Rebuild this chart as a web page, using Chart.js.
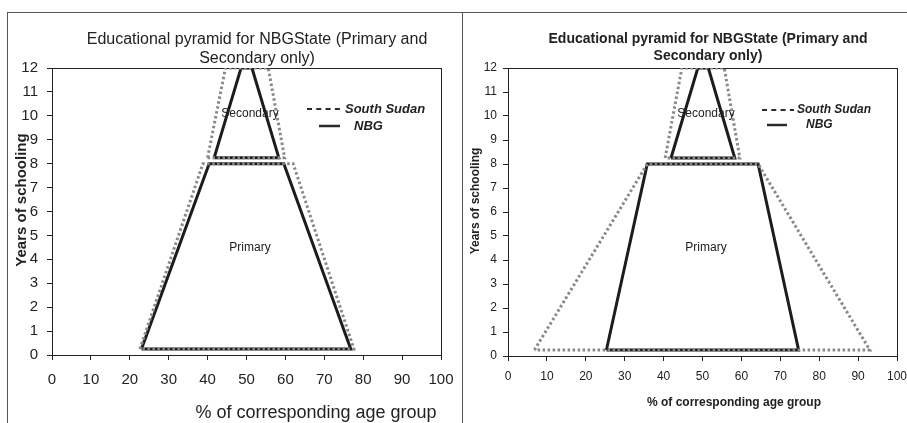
<!DOCTYPE html>
<html>
<head>
<meta charset="utf-8">
<script src="https://cdn.jsdelivr.net/npm/chart.js@4.4.1/dist/chart.umd.min.js"></script>
<style>
    html, body { margin: 0; padding: 0; background: #fff; }
    #page { position: relative; width: 907px; height: 423px; overflow: hidden; }
    .line { position: absolute; background: #555; }
    .panel { position: absolute; top: 0; }
</style>
</head>
<body>
<div id="page">
    <div class="line" style="left:7px; top:12px; width:900px; height:1px;"></div>
    <div class="line" style="left:7px; top:12px; width:1px; height:411px;"></div>
    <div class="line" style="left:462px; top:12px; width:1px; height:411px;"></div>
    <canvas class="panel" id="leftChart" width="461" height="423" style="left:0px;"></canvas>
    <canvas class="panel" id="rightChart" width="445" height="423" style="left:462px;"></canvas>
</div>
<script>
// Series (left panel)
const leftSouthSudanX = [22.6, 38.8, 62, 77.6, 22.6, null, 40, 44.6, 55.6, 59.8, 40];
const leftSouthSudanY = [0.25, 8, 8, 0.25, 0.25, null, 8.25, 12, 12, 8.25, 8.25];
const leftNbgX = [23, 40.4, 59.6, 76.8, 23, null, 41.7, 48.6, 51.4, 58.3, 41.7];
const leftNbgY = [0.25, 8, 8, 0.25, 0.25, null, 8.25, 12, 12, 8.25, 8.25];

// Series (right panel)
const rightSouthSudanX = [6.8, 35.8, 64.3, 93, 6.8, null, 40.4, 44.7, 55.6, 59.6, 40.4];
const rightSouthSudanY = [0.25, 8, 8, 0.25, 0.25, null, 8.25, 12, 12, 8.25, 8.25];
const rightNbgX = [25.3, 35.8, 64.3, 74.7, 25.3, null, 41.9, 48.8, 51.5, 58.3, 41.9];
const rightNbgY = [0.25, 8, 8, 0.25, 0.25, null, 8.25, 12, 12, 8.25, 8.25];

// Text
const seriesNames = ['South Sudan', 'NBG'];
const titleLines = ['Educational pyramid for NBGState (Primary and', 'Secondary only)'];
const xAxisTitle = '% of corresponding age group';
const yAxisTitle = 'Years of schooling';
const regionLabels = ['Secondary', 'Primary'];
const regionX = [50.9, 50.9];
const regionY = [10.1, 4.5];

const FONT = "'Liberation Sans', Arial, sans-serif";

function toPoints(xs, ys) {
    return xs.map((x, i) => ({ x: x, y: ys[i] }));
}

// Draws titles, region labels, frame and the legend
const panelText = {
    id: 'panelText',
    beforeDatasetsDraw(chart) {
        const ctx = chart.ctx;
        const a = chart.chartArea;
        ctx.save();
        ctx.strokeStyle = '#222';
        ctx.lineWidth = 1;
        ctx.strokeRect(Math.round(a.left) + 0.5, Math.round(a.top) + 0.5,
            Math.round(a.right - a.left), Math.round(a.bottom - a.top));
        ctx.restore();
    },
    afterDraw(chart, args, opts) {
        const ctx = chart.ctx;
        const xs = chart.scales.x;
        const ys = chart.scales.y;
        ctx.save();
        ctx.fillStyle = '#222';
        ctx.textAlign = 'center';
        ctx.textBaseline = 'middle';

        ctx.font = opts.titleFont;
        titleLines.forEach((line, i) => ctx.fillText(line, opts.titleX, opts.titleY[i]));

        ctx.font = opts.xTitleFont;
        ctx.fillText(xAxisTitle, opts.xTitlePos[0], opts.xTitlePos[1]);

        ctx.save();
        ctx.translate(opts.yTitlePos[0], opts.yTitlePos[1]);
        ctx.rotate(-Math.PI / 2);
        ctx.font = opts.yTitleFont;
        ctx.fillText(yAxisTitle, 0, 0);
        ctx.restore();

        ctx.font = '12px ' + FONT;
        regionLabels.forEach((t, i) => {
            ctx.fillText(t, xs.getPixelForValue(regionX[i]), ys.getPixelForValue(regionY[i]));
        });

        // legend
        const lg = opts.legend;
        ctx.font = lg.font;
        ctx.textAlign = 'left';
        ctx.strokeStyle = '#2a2a2a';

        ctx.lineWidth = 2;
        ctx.setLineDash([5, 4.3]);
        ctx.beginPath();
        ctx.moveTo(lg.ss[0], lg.ss[2]);
        ctx.lineTo(lg.ss[1], lg.ss[2]);
        ctx.stroke();
        ctx.fillText(seriesNames[0], lg.ss[3], lg.ss[2]);

        ctx.lineWidth = 2.5;
        ctx.setLineDash([]);
        ctx.beginPath();
        ctx.moveTo(lg.nbg[0], lg.nbg[2]);
        ctx.lineTo(lg.nbg[1], lg.nbg[2]);
        ctx.stroke();
        ctx.fillText(seriesNames[1], lg.nbg[3], lg.nbg[2]);

        ctx.restore();
    }
};

function buildChart(canvasId, ssX, ssY, nbgX, nbgY, cfg) {
    const ctx = document.getElementById(canvasId);
    return new Chart(ctx, {
        type: 'scatter',
        data: {
            datasets: [
                {
                    label: seriesNames[0],
                    data: toPoints(ssX, ssY),
                    showLine: true,
                    spanGaps: false,
                    borderColor: '#888888',
                    borderWidth: 3,
                    borderDash: [2.5, 2.5],
                    pointRadius: 0,
                    tension: 0
                },
                {
                    label: seriesNames[1],
                    data: toPoints(nbgX, nbgY),
                    showLine: true,
                    spanGaps: false,
                    borderColor: '#1c1c1c',
                    borderWidth: 3,
                    pointRadius: 0,
                    tension: 0
                }
            ]
        },
        options: {
            responsive: false,
            animation: false,
            layout: {
                padding: { left: 0, right: cfg.padRight, top: 68, bottom: 0 }
            },
            plugins: {
                legend: { display: false },
                tooltip: { enabled: false },
                title: { display: false },
                panelText: cfg.text
            },
            scales: {
                x: {
                    type: 'linear',
                    min: 0,
                    max: 100,
                    afterFit: (scale) => {
                        scale.height = cfg.xHeight;
                        scale.paddingLeft = 0;
                        scale.paddingRight = 0;
                    },
                    border: { color: '#222', width: 1 },
                    grid: { drawOnChartArea: false, tickLength: 5, color: '#222' },
                    ticks: {
                        stepSize: 10,
                        maxRotation: 0,
                        padding: cfg.xTickPad,
                        color: '#222',
                        font: { family: FONT, size: cfg.tickSize }
                    }
                },
                y: {
                    type: 'linear',
                    min: 0,
                    max: 12,
                    afterFit: (scale) => {
                        scale.width = cfg.yWidth;
                        scale.paddingTop = 0;
                        scale.paddingBottom = 0;
                    },
                    border: { color: '#222', width: 1 },
                    grid: { drawOnChartArea: false, tickLength: 5, color: '#222' },
                    ticks: {
                        stepSize: 1,
                        padding: cfg.yTickPad,
                        color: '#222',
                        font: { family: FONT, size: cfg.tickSize }
                    }
                }
            }
        },
        plugins: [panelText]
    });
}

buildChart('leftChart', leftSouthSudanX, leftSouthSudanY, leftNbgX, leftNbgY, {
    padRight: 20,
    xHeight: 68,
    yWidth: 52,
    tickSize: 15,
    xTickPad: 11,
    yTickPad: 9,
    text: {
        titleFont: '16px ' + FONT,
        titleX: 257,
        titleY: [40, 59],
        xTitleFont: '18px ' + FONT,
        xTitlePos: [316, 413],
        yTitleFont: 'bold 15px ' + FONT,
        yTitlePos: [22, 200],
        legend: {
            font: 'italic bold 13px ' + FONT,
            ss: [307, 340, 109, 345],
            nbg: [319, 340, 126, 354]
        }
    }
});

buildChart('rightChart', rightSouthSudanX, rightSouthSudanY, rightNbgX, rightNbgY, {
    padRight: 10,
    xHeight: 67,
    yWidth: 46,
    tickSize: 12,
    xTickPad: 8,
    yTickPad: 6,
    text: {
        titleFont: 'bold 14px ' + FONT,
        titleX: 246,
        titleY: [39, 56],
        xTitleFont: 'bold 12px ' + FONT,
        xTitlePos: [272, 403],
        yTitleFont: 'bold 12px ' + FONT,
        yTitlePos: [14, 201],
        legend: {
            font: 'italic bold 12px ' + FONT,
            ss: [300, 332, 110, 335],
            nbg: [305, 325, 125, 344]
        }
    }
});
</script>
</body>
</html>
